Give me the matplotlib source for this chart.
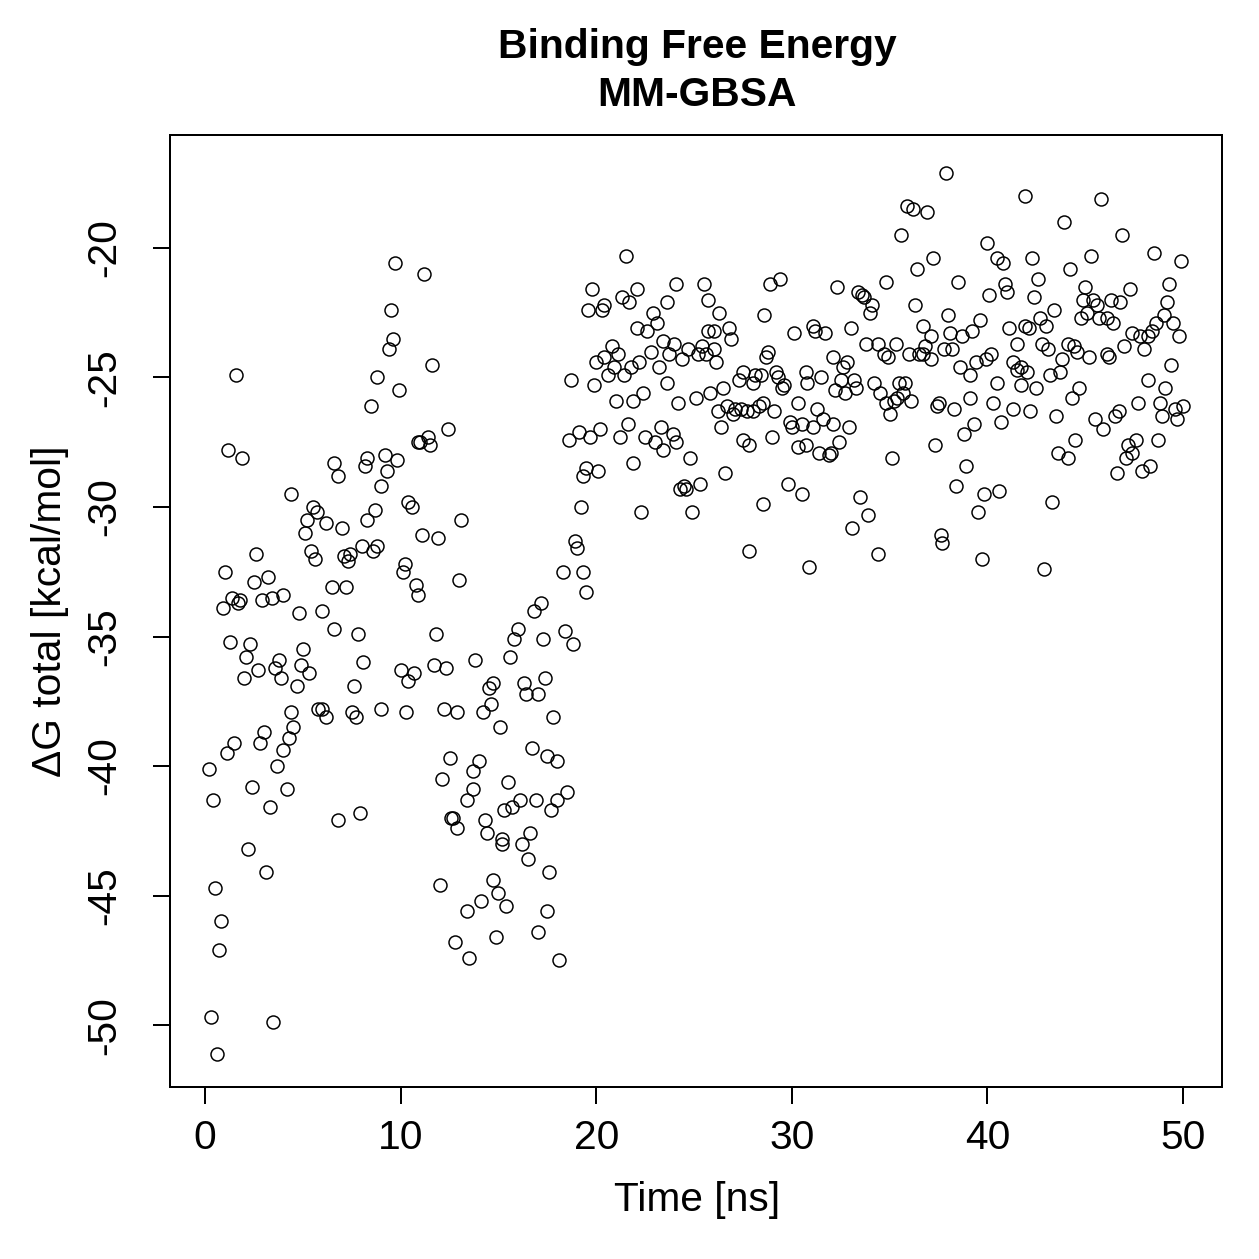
import matplotlib.pyplot as plt

plt.rcParams['font.family'] = ['Liberation Sans', 'DejaVu Sans']
plt.rcParams['axes.unicode_minus'] = False

# MM-GBSA binding free energy per frame
# first 20 ns (bound pose still settling)
time_a = [1.6, 1.2, 1.9, 6.6, 6.8, 4.4, 5.5, 5.7, 5.2, 6.2,
          5.1, 2.6, 5.4, 5.6, 1.0, 2.5, 3.2, 6.5, 1.4, 1.8, 1.7, 0.9, 2.9, 3.4, 4.0, 4.8, 6.0, 6.6,
          1.3, 2.3, 2.1, 2.7, 2.0, 3.8, 3.6, 3.9, 5.0, 4.9, 5.3, 4.7, 4.4, 5.8, 6.0, 6.2, 4.5, 4.3,
          4.0, 3.7, 3.0, 2.8, 1.5, 1.1, 0.2, 2.4, 4.2, 0.4,
          3.3, 6.8, 2.2, 3.1, 0.5, 0.8, 0.7, 0.3, 3.5, 0.6,
          9.7, 11.2, 9.5, 9.6, 9.4, 11.6, 8.8, 9.9, 8.5, 12.4, 11.4, 11.0, 10.9, 11.5, 8.3, 8.2,
          9.2, 9.8, 9.3, 9.0, 10.4, 10.6, 8.7, 8.3, 13.1,
          7.0, 11.1, 11.9, 7.1, 7.4, 7.3, 8.0, 8.6, 8.8, 10.2, 10.1, 10.8, 10.9, 13.0, 7.2, 7.8,
          11.8, 8.1, 10.0, 10.7, 10.4, 11.7, 12.3, 13.8, 7.6, 7.5, 7.7, 9.0, 10.3, 12.2, 12.9,
          12.5, 13.7, 12.1, 13.7, 13.4,
          7.9, 12.6, 12.7, 12.9, 12.0, 13.4, 12.8, 13.5,
          19.8, 19.6, 20.4, 20.3, 20.0, 20.4, 18.7, 19.9, 20.6, 18.6, 19.1, 19.7, 20.2, 19.5,
          19.3, 20.1, 19.2,
          18.9, 19.0, 18.3, 19.3, 19.5, 17.2, 16.8, 16.0, 15.8, 17.3, 18.4, 18.8, 15.6, 14.7,
          14.5, 16.3, 16.4, 17.0, 17.4, 14.6, 14.2, 15.1, 17.8, 16.7, 17.5, 18.0, 14.0, 15.5,
          16.1, 16.9, 18.0, 18.5,
          15.3, 15.7, 17.7, 14.3, 14.4, 15.2, 15.2, 16.2, 16.6, 16.5, 17.6, 14.7, 15.0, 14.1,
          15.4, 17.5, 17.0, 14.9, 18.1]
dg_a = [-24.9, -27.8, -28.1, -28.3, -28.8, -29.5, -30.0, -30.2, -30.5, -30.6,
        -31.0, -31.8, -31.7, -32.0, -32.5, -32.9, -32.7, -33.1, -33.5, -33.6, -33.7, -33.9, -33.6,
        -33.5, -33.4, -34.1, -34.0, -34.7,
        -35.2, -35.3, -35.8, -36.3, -36.6, -35.9, -36.2, -36.6, -35.5, -36.1, -36.4, -36.9, -37.9,
        -37.8, -37.8, -38.1, -38.5, -38.9,
        -39.4, -40.0, -38.7, -39.1, -39.1, -39.5, -40.1, -40.8, -40.9, -41.3,
        -41.6, -42.1, -43.2, -44.1, -44.7, -46.0, -47.1, -49.7, -49.9, -51.1,
        -20.6, -21.0, -22.4, -23.5, -23.9, -24.5, -25.0, -25.5, -26.1, -27.0, -27.3, -27.5, -27.5,
        -27.6, -28.1, -28.4,
        -28.0, -28.2, -28.6, -29.2, -29.8, -30.0, -30.1, -30.5, -30.5,
        -30.8, -31.1, -31.2, -31.9, -31.8, -32.1, -31.5, -31.7, -31.5, -32.2, -32.5, -33.0, -33.4,
        -32.8, -33.1, -34.9,
        -34.9, -36.0, -36.3, -36.4, -36.7, -36.1, -36.2, -35.9, -36.9, -37.9, -38.1, -37.8, -37.9,
        -37.8, -37.9,
        -39.7, -40.2, -40.5, -40.9, -41.3,
        -41.8, -42.0, -42.0, -42.4, -44.6, -45.6, -46.8, -47.4,
        -21.6, -22.4, -22.2, -22.4, -24.4, -24.2, -25.1, -25.3, -24.9, -27.4, -27.1, -27.3, -27.0,
        -28.5, -28.8, -28.6, -30.0,
        -31.3, -31.6, -32.5, -32.5, -33.3, -33.7, -34.0, -34.7, -35.1, -35.1, -34.8, -35.3, -35.8,
        -36.8, -37.0, -36.8, -37.2, -37.2, -36.6, -37.6, -37.9, -38.5, -38.1, -39.3, -39.6, -39.8,
        -39.8, -40.6, -41.3, -41.3, -41.3, -41.0,
        -41.7, -41.6, -41.7, -42.1, -42.6, -42.8, -43.0, -43.0, -42.6, -43.6, -44.1, -44.4, -44.9,
        -45.2, -45.4, -45.6, -46.4, -46.6, -47.5]

# 20 - 50 ns (plateau)
time_b = [21.5, 22.1, 21.3, 21.7, 24.1, 25.5, 25.7, 23.6, 29.4, 28.9, 28.6, 22.9, 23.1, 22.1,
          22.6, 26.3, 26.8, 26.9, 25.7, 26.0, 23.4, 24.0, 20.8, 21.1, 22.8, 23.7, 24.7, 25.4,
          25.2, 25.6, 26.0, 24.4, 26.1, 22.2, 21.8, 23.2, 20.9, 21.4, 23.6, 28.8, 28.7, 30.1,
          27.5, 27.3, 28.0, 28.1, 28.4, 29.2, 29.3, 29.5, 29.6, 26.5, 25.8, 25.1, 24.2, 22.4,
          21.9, 21.0, 26.7, 26.2, 27.0, 27.1, 27.4, 27.7, 28.0, 28.3, 28.5, 29.1, 29.9, 30.0,
          26.4, 21.2, 21.6, 23.3, 22.5, 23.0, 23.4, 23.9, 24.1, 27.5, 27.8, 29.0, 21.9, 24.8,
          26.6, 29.8, 24.3, 24.5, 24.6, 25.3, 22.3, 24.9, 28.5, 27.8,
          37.9, 35.9, 36.2, 36.9, 35.6, 40.0, 37.2, 40.5, 36.4, 38.5, 34.8, 32.3, 33.4, 33.6,
          33.7, 40.1, 36.3, 34.1, 34.0, 38.0, 39.6, 31.1, 31.2, 31.7, 33.0, 36.7, 37.1, 38.1,
          38.7, 39.2, 33.8, 34.4, 35.3, 34.7, 34.9, 36.0, 36.5, 36.7, 36.8, 37.1, 37.8, 38.2,
          32.1, 32.8, 32.6, 38.6, 39.1, 39.4, 39.9, 40.2, 30.7, 30.8, 31.5, 32.5, 33.2, 33.3,
          32.2, 32.7, 34.2, 34.5, 34.8, 35.5, 35.8, 35.7, 35.4, 35.2, 36.1, 35.0, 40.5, 40.3,
          39.1, 37.5, 37.4, 38.3, 30.3, 31.3, 31.6, 30.5, 31.1, 32.1, 32.9, 32.4, 30.3, 30.7,
          31.4, 31.9, 32.0, 39.3, 38.8, 40.7, 37.3, 35.1, 38.9, 30.5, 33.5, 38.4, 39.8, 40.6,
          33.9, 33.1, 39.5, 37.6, 37.7, 34.4, 30.9, 39.7,
          41.9, 45.8, 43.9, 46.9, 48.5, 49.9, 42.3, 45.3, 44.2, 40.8, 40.9, 41.0, 42.6, 42.4,
          45.0, 47.3, 49.3, 44.9, 45.4, 45.6, 46.3, 46.8, 49.2, 43.4, 42.7, 43.0, 41.1, 41.9,
          42.1, 44.8, 45.1, 45.7, 46.1, 46.4, 49.0, 49.5, 48.6, 47.4, 47.8, 48.2, 48.4, 49.8,
          41.5, 42.8, 43.1, 44.1, 44.4, 44.6, 45.2, 46.1, 46.2, 47.0, 48.0, 43.8, 41.3, 41.5,
          41.7, 42.0, 43.2, 43.7, 49.4, 41.7, 42.5, 44.7, 44.3, 48.2, 49.1, 47.7, 48.8, 48.9,
          49.6, 50.0, 49.7, 41.3, 42.2, 43.5, 45.5, 45.9, 46.5, 46.7, 44.5, 43.6, 44.1, 47.6,
          47.2, 47.4, 47.1, 48.7, 48.3, 47.9, 46.6, 43.3, 42.9]
dg_b = [-20.3, -21.6, -21.9, -22.1, -21.4, -21.4, -22.0, -22.1, -21.2, -21.4, -22.6, -22.5,
        -22.9, -23.1, -23.2, -22.5, -23.1, -23.5, -23.2, -23.2, -23.6, -23.7, -23.8, -24.1,
        -24.0, -24.1, -23.9, -23.8, -24.1, -24.1, -23.9, -24.3, -24.4, -24.4, -24.6, -24.6,
        -24.6, -24.9, -25.2, -24.0, -24.2, -23.3, -24.8, -25.1, -25.2, -24.9, -24.9, -24.8,
        -25.0, -25.4, -25.3, -25.4, -25.6, -25.8, -26.0, -25.6, -25.9, -25.9, -26.1, -26.3,
        -26.4, -26.2, -26.2, -26.3, -26.3, -26.1, -26.0, -26.3, -26.7, -26.9, -26.9, -27.3,
        -26.8, -26.9, -27.3, -27.5, -27.8, -27.2, -27.5, -27.4, -27.6, -27.3, -28.3, -28.1,
        -28.7, -29.1, -29.3, -29.2, -29.3, -29.1, -30.2, -30.2, -29.9, -31.7,
        -17.1, -18.4, -18.5, -18.6, -19.5, -19.8, -20.4, -20.4, -20.8, -21.3, -21.3, -21.5,
        -21.7, -21.8, -21.9, -21.8, -22.2, -22.2, -22.5, -22.6, -22.8, -23.0, -23.2, -23.3,
        -23.1, -23.0, -23.4, -23.3, -23.4, -23.2, -23.7, -23.7, -23.7, -24.1, -24.2, -24.1,
        -24.1, -24.1, -23.8, -24.3, -23.9, -23.9, -24.2, -24.4, -24.6, -24.6, -24.9, -24.4,
        -24.3, -24.1, -24.8, -25.2, -25.0, -25.1, -25.1, -25.4, -25.5, -25.6, -25.2, -25.6,
        -26.0, -25.2, -25.2, -25.6, -25.8, -25.9, -25.9, -26.4, -25.2, -26.0, -25.8, -26.0,
        -26.1, -26.2, -26.0, -26.2, -26.6, -26.8, -26.9, -26.8, -26.9, -27.5, -27.7, -27.6,
        -27.9, -28.0, -27.9, -26.8, -27.2, -26.7, -27.6, -28.1, -28.4, -29.5, -29.6, -29.2,
        -29.5, -29.4, -30.3, -30.8, -30.2, -31.1, -31.4, -31.8, -32.3, -32.0,
        -18.0, -18.1, -19.0, -19.5, -20.2, -20.5, -20.4, -20.3, -20.8, -20.6, -21.4, -21.7,
        -21.2, -21.9, -21.5, -21.6, -21.4, -22.0, -22.0, -22.2, -22.0, -22.1, -22.1, -22.4,
        -22.7, -23.0, -23.1, -23.0, -23.1, -22.7, -22.5, -22.7, -22.7, -22.9, -22.6, -22.9,
        -22.9, -23.3, -23.4, -23.4, -23.2, -23.4, -23.7, -23.7, -23.9, -23.7, -23.8, -24.0,
        -24.2, -24.1, -24.2, -23.8, -23.9, -24.3, -24.4, -24.7, -24.6, -24.8, -24.9, -24.8,
        -24.5, -25.3, -25.4, -25.4, -25.8, -25.1, -25.4, -26.0, -26.0, -26.5, -26.2, -26.1,
        -26.6, -26.2, -26.3, -26.5, -26.6, -27.0, -26.5, -26.3, -27.4, -27.9, -28.1, -27.4,
        -27.6, -27.9, -28.1, -27.4, -28.4, -28.6, -28.7, -29.8, -32.4]

time_ns = time_a + time_b
dg_total = dg_a + dg_b

W = 1259
fig = plt.figure(figsize=(W / 180, W / 180), dpi=180)
ax = fig.add_axes([170 / W, 1 - 1087 / W, 1052 / W, 952 / W])

ax.plot(time_ns, dg_total, ls='none', marker='o', ms=5.2, mfc='none', mec='black', mew=0.6)

ax.set_xlim(-1.79, 51.99)
ax.set_ylim(-52.39, -15.64)
ax.set_xticks([0, 10, 20, 30, 40, 50])
ax.set_yticks([-50, -45, -40, -35, -30, -25, -20])
ax.tick_params(direction='out', length=6.8, width=0.8, labelsize=16.3, color='black')
ax.tick_params(axis='x', pad=6)
ax.tick_params(axis='y', pad=12)
for lab in ax.get_yticklabels():
    lab.set_rotation(90)
    lab.set_va('center')
for sp in ax.spines.values():
    sp.set_linewidth(0.8)

fig.text(697 / W, 1 - 1200 / W, 'Time [ns]', ha='center', va='center', fontsize=16.3)
fig.text(50 / W, 1 - 611 / W, 'ΔG total [kcal/mol]', ha='center', va='center',
         rotation=90, fontsize=16.3)
fig.text(697 / W, 1 - 47 / W, 'Binding Free Energy', ha='center', va='center',
         fontsize=16.3, fontweight='bold')
fig.text(697 / W, 1 - 95 / W, 'MM-GBSA', ha='center', va='center',
         fontsize=16.3, fontweight='bold')

fig.savefig('out.png', dpi=180)
